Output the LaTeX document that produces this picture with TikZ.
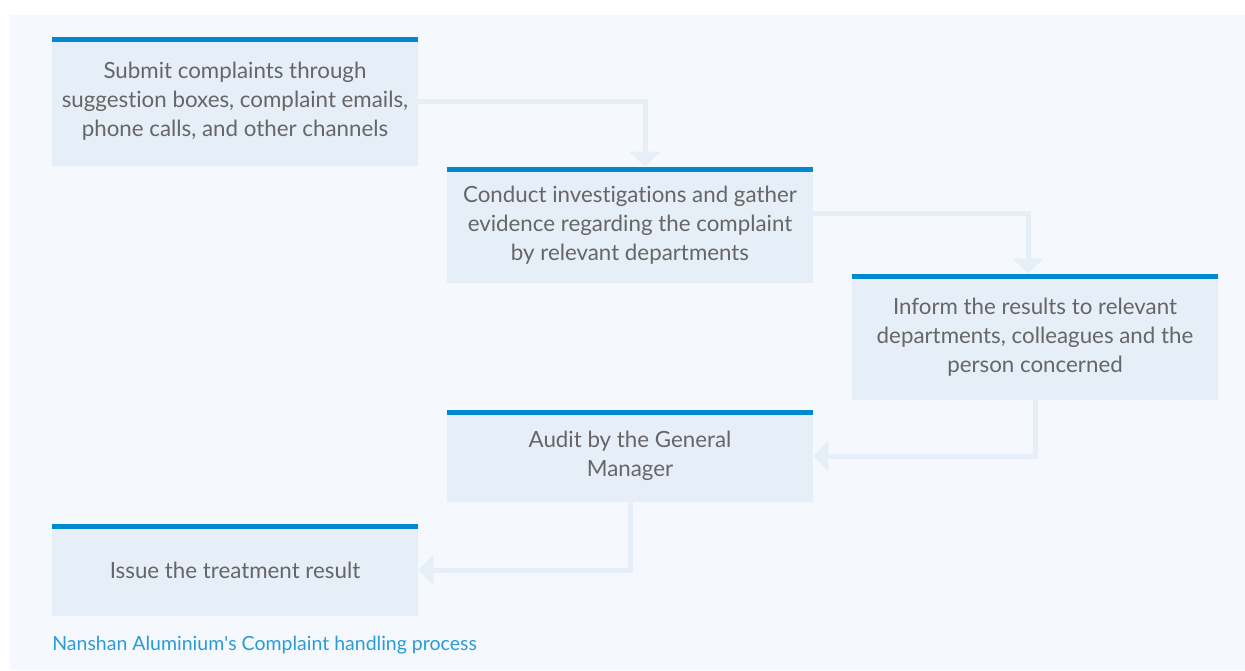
\documentclass[tikz,border=0pt]{standalone}
\usepackage{fontspec}
\setmainfont{Lato}[Ligatures=NoCommon]
\usepackage{tikz}
\usetikzlibrary{arrows.meta}
\definecolor{panel}{HTML}{F5F9FD}
\definecolor{boxfill}{HTML}{E6EEF8}
\definecolor{barblue}{HTML}{0089CF}
\definecolor{textgray}{HTML}{666666}
\definecolor{capblue}{HTML}{2A9BD8}
\tikzset{
  stepbox/.style={rectangle, fill=boxfill, minimum width=7.32cm, align=center,
    text=textgray, font=\fontsize{12.7}{16.5}\selectfont, inner sep=0pt,
    path picture={\fill[barblue] (path picture bounding box.north west)
      rectangle ([yshift=-0.1cm]path picture bounding box.north east);}},
  flow/.style={draw=boxfill, line width=0.1cm, -{Triangle[width=0.6cm,length=0.3cm]}}
}
\begin{document}
\begin{tikzpicture}[x=0.02cm, y=-0.02cm]
    \useasboundingbox (0, 0) rectangle (1245, 670);
    \fill [white] (0, 0) rectangle (1245, 670);
    \fill [panel] (10, 15) rectangle (1245, 670);
    % steps
    \node [stepbox, minimum height=2.58cm] (submit) at (235, 101.5)
      {Submit complaints through\\suggestion boxes, complaint emails,\\phone calls, and other channels};
    \node [stepbox, minimum height=2.32cm] (investigate) at (630, 225)
      {Conduct investigations and gather\\evidence regarding the complaint\\by relevant departments};
    \node [stepbox, minimum height=2.52cm] (inform) at (1035, 337)
      {Inform the results to relevant\\departments, colleagues and the\\person concerned};
    \node [stepbox, minimum height=1.84cm] (audit) at (630, 456)
      {Audit by the General\\Manager};
    \node [stepbox, minimum height=1.84cm] (issue) at (235, 570)
      {Issue the treatment result};
    % arrows
    \draw [flow] (submit.east) -| ([xshift=0.3cm]investigate.north);
    \draw [flow] ([yshift=0.24cm]investigate.east) -| ([xshift=-0.14cm]inform.north);
    \draw [flow] (inform.south) |- (audit.east);
    \draw [flow] (audit.south) |- (issue.east);
    \node [anchor=west, text=capblue, font=\fontsize{11.1}{13}\selectfont, inner sep=0pt] (caption) at (52, 645)
      {Nanshan Aluminium\textquotesingle s Complaint handling process};
\end{tikzpicture}
\end{document}
